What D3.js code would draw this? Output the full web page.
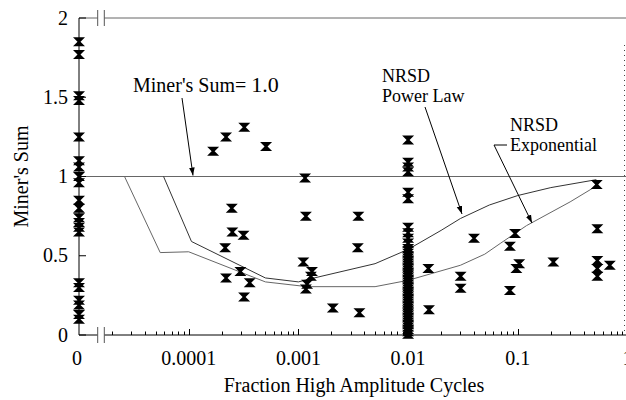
<!DOCTYPE html>
<html>
<head>
<meta charset="utf-8">
<script src="https://cdn.jsdelivr.net/npm/d3@7"></script>
<style>
  body { margin: 0; background: #fff; }
  text { font-family: "Liberation Serif", "Times New Roman", serif; fill: #000; }
</style>
</head>
<body>
<div id="chart"></div>
<script>
// tests plotted on the "0" position (left of the axis break)
var zeroSums = [1.85, 1.77, 1.51, 1.48, 1.25, 1.1, 1.06, 1.0, 0.96, 0.85, 0.8, 0.74,
                0.71, 0.68, 0.65, 0.33, 0.3, 0.22, 0.19, 0.13, 0.1];

// tests at fraction 0.01 (the dense column)
var colFrac = 0.01;
var colSums = [0.005, 0.02, 0.034, 0.05, 0.066, 0.08, 0.094, 0.11, 0.126, 0.14, 0.156,
               0.17, 0.185, 0.2, 0.214, 0.23, 0.246, 0.26, 0.275, 0.29, 0.305, 0.32,
               0.335, 0.35, 0.366, 0.38, 0.395, 0.41, 0.424, 0.44, 0.455, 0.47, 0.486,
               0.5, 0.515, 0.53, 0.545, 0.58, 0.61, 0.645, 0.68, 0.86, 0.9, 1.03, 1.06,
               1.09, 1.23];

// remaining tests
var testFrac = [1.67e-4, 2.19e-4, 3.21e-4, 5.07e-4, 1.15e-3,
                2.47e-4, 2.5e-4, 3.16e-4, 2.15e-4, 2.19e-4, 2.96e-4, 3.6e-4, 3.2e-4,
                1.17e-3, 1.11e-3, 1.33e-3, 1.3e-3, 1.2e-3, 1.17e-3,
                2.06e-3, 3.52e-3, 3.48e-3, 3.6e-3,
                0.0153, 0.0155, 0.0301, 0.0301, 0.0399, 0.0944, 0.0848, 0.103, 0.097,
                0.0848, 0.211, 0.531, 0.531, 0.531, 0.531, 0.69, 0.524];
var testSum  = [1.16, 1.25, 1.31, 1.19, 0.99,
                0.8, 0.65, 0.63, 0.55, 0.36, 0.4, 0.33, 0.24,
                0.75, 0.46, 0.4, 0.37, 0.32, 0.29,
                0.17, 0.75, 0.55, 0.14,
                0.42, 0.16, 0.37, 0.295, 0.61, 0.64, 0.56, 0.45, 0.42,
                0.28, 0.46, 0.67, 0.47, 0.42, 0.37, 0.44, 0.95];

// NRSD curves
var powerFrac = [5.9e-5, 1.06e-4, 5e-4, 1.0e-3, 1.3e-3, 5e-3, 0.01, 0.02, 0.03, 0.055, 0.1, 0.2, 0.52];
var powerSum  = [1.0, 0.59, 0.36, 0.335, 0.355, 0.45, 0.54, 0.66, 0.735, 0.82, 0.88, 0.93, 0.98];
var expoFrac  = [2.6e-5, 5.5e-5, 1.0e-4, 5e-4, 1.2e-3, 5e-3, 0.01, 0.03, 0.05, 0.07, 0.12, 0.3, 0.52];
var expoSum   = [1.0, 0.52, 0.525, 0.335, 0.305, 0.305, 0.345, 0.44, 0.51, 0.58, 0.69, 0.84, 0.94];

var xTicks = [1e-4, 1e-3, 1e-2, 1e-1, 1];
var xTickLabels = ["0.0001", "0.001", "0.01", "0.1", "1"];
var yTicks = [0, 0.5, 1, 1.5, 2];

var width = 626, height = 400;
var plotLeft = 79, plotRight = 627.5, plotTop = 18, plotBottom = 335;

var x = d3.scaleLog().domain([1e-5, 1]).range([plotLeft, plotRight]);
var y = d3.scaleLinear().domain([0, 2]).range([plotBottom, plotTop]);
function xp(v) { return v === 0 ? x(1e-5) : x(v); }

var svg = d3.select("#chart").append("svg")
    .attr("width", width)
    .attr("height", height);

svg.append("rect").attr("width", width).attr("height", height).attr("fill", "#fff");

svg.append("defs").append("marker")
    .attr("id", "arrow")
    .attr("viewBox", "0 0 10 10")
    .attr("refX", 10).attr("refY", 5)
    .attr("markerWidth", 8).attr("markerHeight", 8)
    .attr("markerUnits", "userSpaceOnUse")
    .attr("orient", "auto")
    .append("path")
    .attr("d", "M0,1.5L10,5L0,8.5Z")
    .attr("fill", "#000");

// break gap position
var gapA = 97.7, gapB = 104.3;

// top border (gray) with break
svg.append("line").attr("x1", plotLeft).attr("x2", gapA).attr("y1", y(2)).attr("y2", y(2))
    .attr("stroke", "#666").attr("stroke-width", 1);
svg.append("line").attr("x1", gapB).attr("x2", width).attr("y1", y(2)).attr("y2", y(2))
    .attr("stroke", "#666").attr("stroke-width", 1);

// Miner's sum = 1 line
svg.append("line").attr("x1", plotLeft).attr("x2", width).attr("y1", y(1)).attr("y2", y(1))
    .attr("stroke", "#666").attr("stroke-width", 1);

// dotted right edge
svg.append("line").attr("x1", 624.5).attr("x2", 624.5).attr("y1", 45).attr("y2", plotBottom - 2)
    .attr("stroke", "#444").attr("stroke-width", 1).attr("stroke-dasharray", "1,4");

// x axis with break
svg.append("line").attr("x1", plotLeft).attr("x2", gapA).attr("y1", plotBottom).attr("y2", plotBottom)
    .attr("stroke", "#000");
svg.append("line").attr("x1", gapB).attr("x2", width).attr("y1", plotBottom).attr("y2", plotBottom)
    .attr("stroke", "#000");

// break marks
[gapA, gapB].forEach(function(gx) {
    svg.append("line").attr("x1", gx).attr("x2", gx).attr("y1", plotTop - 8).attr("y2", plotTop + 8)
        .attr("stroke", "#555");
    svg.append("line").attr("x1", gx).attr("x2", gx).attr("y1", plotBottom - 8).attr("y2", plotBottom + 8)
        .attr("stroke", "#555");
});

// x ticks: minor and major, pointing up
var minor = x.ticks().filter(function(t) { return t >= 2e-5 && t <= 1; });
svg.selectAll(".xtick")
    .data(minor)
    .enter().append("line")
    .attr("x1", function(d) { return Math.round(x(d)) + 0.5; })
    .attr("x2", function(d) { return Math.round(x(d)) + 0.5; })
    .attr("y1", plotBottom)
    .attr("y2", function(d) {
        var isMajor = xTicks.some(function(t) { return Math.abs(t - d) / t < 1e-6; });
        return plotBottom - (isMajor ? 6 : 3.5);
    })
    .attr("stroke", "#000");

svg.selectAll(".xlabel")
    .data(xTicks)
    .enter().append("text")
    .attr("x", function(d) { return x(d); })
    .attr("y", 365)
    .attr("text-anchor", "middle")
    .attr("font-size", "20px")
    .text(function(d, i) { return xTickLabels[i]; });

svg.append("text")
    .attr("x", 77).attr("y", 365)
    .attr("text-anchor", "middle")
    .attr("font-size", "20px")
    .text("0");

svg.append("text")
    .attr("x", 354).attr("y", 392)
    .attr("text-anchor", "middle")
    .attr("font-size", "20px")
    .text("Fraction High Amplitude Cycles");

// y axis
svg.append("line").attr("x1", plotLeft).attr("x2", plotLeft).attr("y1", plotTop).attr("y2", plotBottom)
    .attr("stroke", "#000");
svg.selectAll(".ytick")
    .data(yTicks)
    .enter().append("line")
    .attr("x1", plotLeft).attr("x2", plotLeft + 7)
    .attr("y1", function(d) { return y(d); })
    .attr("y2", function(d) { return y(d); })
    .attr("stroke", "#000");
svg.selectAll(".ylabel")
    .data(yTicks)
    .enter().append("text")
    .attr("x", 68)
    .attr("y", function(d) { return y(d); })
    .attr("dy", "0.33em")
    .attr("text-anchor", "end")
    .attr("font-size", "20px")
    .text(function(d) { return d; });

svg.append("text")
    .attr("transform", "translate(28," + y(1) + ") rotate(-90)")
    .attr("text-anchor", "middle")
    .attr("font-size", "20px")
    .text("Miner's Sum");

// curves
var line = d3.line()
    .x(function(d) { return x(d[0]); })
    .y(function(d) { return y(d[1]); });

svg.append("path")
    .datum(d3.zip(powerFrac, powerSum))
    .attr("d", line)
    .attr("fill", "none")
    .attr("stroke", "#333")
    .attr("stroke-width", 1);

svg.append("path")
    .datum(d3.zip(expoFrac, expoSum))
    .attr("d", line)
    .attr("fill", "none")
    .attr("stroke", "#666")
    .attr("stroke-width", 1);

// markers
var bowtie = "M-6,-4.5H6L1.5,0L6,4.5H-6L-1.5,0Z";
var pts = zeroSums.map(function(s) { return [0, s]; })
    .concat(colSums.map(function(s) { return [colFrac, s]; }))
    .concat(d3.zip(testFrac, testSum));

svg.selectAll(".pt")
    .data(pts)
    .enter().append("path")
    .attr("class", "pt")
    .attr("d", bowtie)
    .attr("transform", function(d) {
        return "translate(" + xp(d[0]) + "," + y(d[1]) + ")";
    })
    .attr("fill", "#000");

// annotations
var miner = svg.append("text")
    .attr("x", 133).attr("y", 92)
    .attr("font-size", "20px");
miner.append("tspan").text("Miner's Sum= ");
miner.append("tspan").attr("font-size", "22px").text("1.0");

svg.append("line")
    .attr("x1", 182).attr("y1", 98)
    .attr("x2", 193).attr("y2", y(1) - 1)
    .attr("stroke", "#000")
    .attr("marker-end", "url(#arrow)");

svg.append("text").attr("x", 382).attr("y", 82).attr("font-size", "18px").text("NRSD");
svg.append("text").attr("x", 382).attr("y", 102).attr("font-size", "18px").text("Power Law");

svg.append("line")
    .attr("x1", 425).attr("y1", 107)
    .attr("x2", 462).attr("y2", 214)
    .attr("stroke", "#000")
    .attr("marker-end", "url(#arrow)");

svg.append("text").attr("x", 510).attr("y", 131).attr("font-size", "18px").text("NRSD");
svg.append("text").attr("x", 510).attr("y", 151).attr("font-size", "18px").text("Exponential");

svg.append("path")
    .attr("d", "M507,145L494,145L532,223")
    .attr("fill", "none")
    .attr("stroke", "#000")
    .attr("marker-end", "url(#arrow)");
</script>
</body>
</html>
